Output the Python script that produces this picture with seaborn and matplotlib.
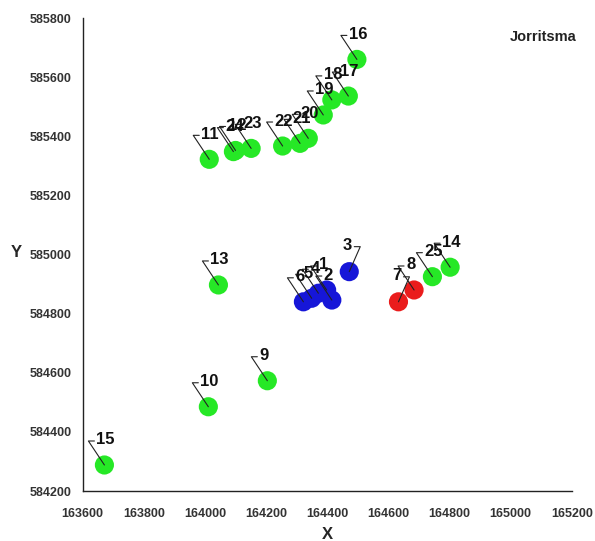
import matplotlib
matplotlib.use("Agg")
import matplotlib.pyplot as plt
import seaborn as sns
import pandas as pd
from matplotlib.lines import Line2D
from matplotlib.transforms import IdentityTransform

# ---- data ----
ids = [1, 2, 3, 4, 5, 6, 7, 8, 9, 10, 11, 12, 13, 14, 15, 16, 17, 18, 19, 20, 21, 22, 23, 24, 25]
xs = [164398, 164415, 164472, 164371, 164349, 164322, 164633, 164684, 164204, 164011,
      164014, 164100, 164044, 164802, 163671, 164497, 164469, 164415, 164387, 164338,
      164311, 164254, 164151, 164093, 164744]
ys = [584880, 584846, 584942, 584869, 584852, 584840, 584840, 584880, 584573, 584485,
      585322, 585352, 584897, 584957, 584288, 585660, 585536, 585523, 585472, 585393,
      585376, 585367, 585359, 585348, 584925]
groups = ["b", "b", "b", "b", "b", "b", "r", "r", "g", "g",
          "g", "g", "g", "g", "g", "g", "g", "g", "g", "g",
          "g", "g", "g", "g", "g"]
label_side = {3: "R", 7: "R"}
x_ticks = [163600, 163800, 164000, 164200, 164400, 164600, 164800, 165000, 165200]
y_ticks = [584200, 584400, 584600, 584800, 585000, 585200, 585400, 585600, 585800]
title_text = "Jorritsma"

df = pd.DataFrame({"id": ids, "X": xs, "Y": ys, "grp": groups})
palette = {"g": "#26e826", "b": "#1616d8", "r": "#ea1c1c"}

sns.set_style("white")
plt.rcParams["font.family"] = ["Liberation Sans", "DejaVu Sans"]

fig = plt.figure(figsize=(5.95, 5.41), dpi=100)
ax = fig.add_axes([0.139, 0.0924, 0.822, 0.8743])

sns.scatterplot(data=df, x="X", y="Y", hue="grp", palette=palette, s=190,
                edgecolor="none", linewidth=0, legend=False, ax=ax, zorder=2)

ax.set_xlim(x_ticks[0], x_ticks[-1])
ax.set_ylim(y_ticks[0], y_ticks[-1])
ax.set_xticks(x_ticks)
ax.set_yticks(y_ticks)
ax.set_xticklabels([str(t) for t in x_ticks])
ax.set_yticklabels([str(t) for t in y_ticks])
for lab in ax.get_xticklabels() + ax.get_yticklabels():
    lab.set_fontweight("bold")
    lab.set_fontsize(9)
    lab.set_color("#333333")
ax.tick_params(axis="both", direction="inout", length=8, width=1, color="#222222")
ax.tick_params(axis="x", pad=8)
ax.tick_params(axis="y", pad=4)
for side in ["top", "right"]:
    ax.spines[side].set_visible(False)
for side in ["left", "bottom"]:
    ax.spines[side].set_color("#222222")
    ax.spines[side].set_linewidth(1)

ax.set_xlabel("X", fontsize=12, fontweight="bold", labelpad=5)
ax.set_ylabel("")
fig.text(0.027, 1 - 253 / 541, "Y", fontsize=12, fontweight="bold", ha="center", va="center")
fig.text(577 / 595, 1 - 37 / 541, title_text, fontsize=10.5, fontweight="bold",
         ha="right", va="center", color="#222222")

# leader lines + labels (pixel offsets, y up)
for pid, x, y in zip(ids, xs, ys):
    px, py = ax.transData.transform((x, y))
    if label_side.get(pid) == "R":
        cx, cy = px + 11, py + 25
        hx = px + 5
        tx, ha = px + 3, "right"
    else:
        cx, cy = px - 16, py + 24
        hx = px - 10
        tx, ha = px - 8, "left"
    ln = Line2D([px, cx, hx], [py, cy, cy], color="#222222", linewidth=0.8,
                transform=IdentityTransform(), zorder=5)
    fig.add_artist(ln)
    fig.text(tx / fig.dpi / fig.get_figwidth(), (cy + 1) / fig.dpi / fig.get_figheight(),
             str(pid), fontsize=12, fontweight="bold", ha=ha, va="center",
             color="#111111", zorder=6)

fig.savefig("out.png", dpi=100)
